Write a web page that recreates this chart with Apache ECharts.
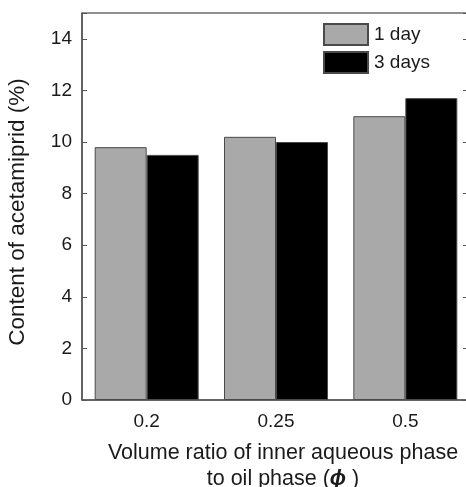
<!DOCTYPE html>
<html>
<head>
<meta charset="utf-8">
<script src="https://cdn.jsdelivr.net/npm/echarts@6/dist/echarts.min.js"></script>
<style>
  html, body { margin: 0; padding: 0; background: #fff; }
  #chart { width: 466px; height: 487px; }
</style>
</head>
<body>
<div id="chart"></div>
<script>
// volume ratio categories
var categories = ['0.2', '0.25', '0.5'];
var oneDay = [9.8, 10.2, 11.0];
var threeDays = [9.5, 10.0, 11.7];
var yTicks = [0, 2, 4, 6, 8, 10, 12, 14];

var font = '"Liberation Sans", Arial, sans-serif';

var myChart = echarts.init(document.getElementById('chart'));

var option = {
    backgroundColor: '#fff',
    animation: false,
    textStyle: { fontFamily: font, color: '#1a1a1a' },
    grid: {
        left: 82,
        top: 13,
        width: 388,
        height: 387,
        outerBoundsMode: 'none',
        containLabel: false,
        show: true,
        borderColor: '#222',
        borderWidth: 1
    },
    legend: {
        orient: 'vertical',
        left: 323,
        top: 23,
        padding: 0,
        itemWidth: 44,
        itemHeight: 21,
        itemGap: 5,
        icon: 'rect',
        textStyle: { fontSize: 19, fontFamily: font, color: '#1a1a1a', padding: [0, 0, 0, 1] },
        data: ['1 day', '3 days']
    },
    xAxis: {
        type: 'category',
        data: categories,
        axisTick: { show: false },
        axisLine: { lineStyle: { color: '#555', width: 1.5 } },
        axisLabel: { fontSize: 19, margin: 12, color: '#1a1a1a', fontFamily: font }
    },
    yAxis: [
        {
            type: 'value',
            min: 0,
            max: 15,
            interval: 2,
            splitLine: { show: false },
            axisLine: { show: true, lineStyle: { color: '#555', width: 1.5 } },
            axisTick: { show: true, inside: true, length: 5, lineStyle: { color: '#555' } },
            axisLabel: {
                fontSize: 19, margin: 10, color: '#1a1a1a', fontFamily: font,
                formatter: function (v) { return yTicks.indexOf(v) >= 0 ? String(v) : ''; }
            }
        },
        {
            type: 'value',
            position: 'right',
            min: 0,
            max: 15,
            interval: 2,
            splitLine: { show: false },
            axisLine: { show: false },
            axisTick: { show: true, inside: true, length: 7, lineStyle: { color: '#555' } },
            axisLabel: { show: false }
        }
    ],
    series: [
        {
            name: '1 day',
            type: 'bar',
            data: oneDay,
            barGap: '0%',
            barCategoryGap: '19.6%',
            itemStyle: { color: '#a9a9a9', borderColor: '#4a4a4a', borderWidth: 1 }
        },
        {
            name: '3 days',
            type: 'bar',
            data: threeDays,
            barGap: '0%',
            barCategoryGap: '19.6%',
            itemStyle: { color: '#000', borderColor: '#4a4a4a', borderWidth: 1 }
        }
    ],
    graphic: [
        {
            type: 'text',
            x: 18,
            y: 212,
            rotation: Math.PI / 2,
            style: {
                text: 'Content of acetamiprid (%)',
                font: '22.5px ' + font,
                fill: '#1a1a1a',
                align: 'center',
                verticalAlign: 'middle'
            }
        },
        {
            type: 'text',
            x: 283,
            y: 453,
            style: {
                text: 'Volume ratio of inner aqueous phase',
                font: '21.5px ' + font,
                fill: '#1a1a1a',
                align: 'center',
                verticalAlign: 'middle'
            }
        },
        {
            type: 'text',
            x: 283,
            y: 479,
            style: {
                text: '{a|to oil phase (}{b|ϕ}{a| )}',
                fill: '#1a1a1a',
                align: 'center',
                verticalAlign: 'middle',
                rich: {
                    a: { fontSize: 21.5, fontFamily: font, fill: '#1a1a1a' },
                    b: { fontSize: 21.5, fontFamily: font, fontWeight: 'bold', fontStyle: 'italic', fill: '#1a1a1a' }
                }
            }
        }
    ]
};

myChart.setOption(option);
</script>
</body>
</html>
